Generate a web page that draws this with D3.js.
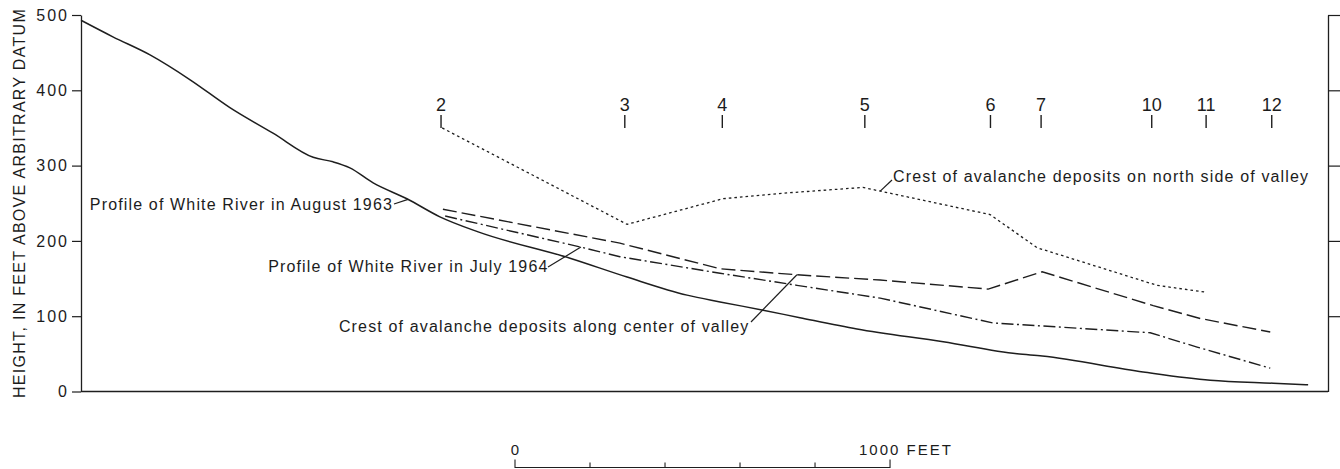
<!DOCTYPE html>
<html>
<head>
<meta charset="utf-8">
<script src="https://cdn.jsdelivr.net/npm/d3@7"></script>
<style>
  html, body { margin: 0; padding: 0; background: #fff; }
  svg { display: block; }
  text { font-family: "Liberation Sans", Arial, Helvetica, sans-serif; fill: #1c1c1c; }
</style>
</head>
<body>
<svg id="chart" width="1340" height="469"></svg>
<script>
// Longitudinal profile of the White River valley.
// Distances are feet down-valley; heights are feet above an arbitrary datum.

// Profile of White River in August 1963 (solid)
const aug1963Dist = [0, 85, 184, 291, 397, 512, 619, 672, 717, 779, 869, 957, 1059, 1304, 1456, 1616, 1704, 1819, 1917, 2069, 2299, 2496, 2563, 2832, 3011, 3179, 3272];
const aug1963Elev = [493, 471, 447, 414, 377, 343, 311, 305, 297, 277, 256, 232, 212, 177, 152, 128, 119, 108, 98, 83, 66, 50, 47, 26, 15, 11, 9];

// Profile of White River in July 1964 (dash-dot)
const jul1964Dist = [971, 1331, 1437, 1704, 1909, 2131, 2432, 2563, 2851, 2976, 3171];
const jul1964Elev = [233, 192, 179, 157, 141, 124, 91, 87, 78, 59, 31];

// Crest of avalanche deposits along center of valley (long dash)
const centerCrestDist = [965, 1437, 1704, 1909, 2131, 2419, 2563, 2859, 2984, 3171];
const centerCrestElev = [242, 197, 163, 155, 148, 136, 159, 114, 97, 79];

// Crest of avalanche deposits on north side of valley (dotted)
const northCrestDist = [963, 1456, 1712, 1890, 2085, 2424, 2549, 2869, 2997];
const northCrestElev = [350, 222, 256, 264, 271, 235, 191, 141, 132];

// Cross-section stations
const sectionNames = ["2", "3", "4", "5", "6", "7", "10", "11", "12"];
const sectionDist = [960, 1450, 1710, 2090, 2425, 2560, 2855, 3000, 3175];

const heightTicks = [0, 100, 200, 300, 400, 500];
const scaleBarTicks = [0, 200, 400, 600, 800, 1000];

const ink = "#1e1e1e";
const svg = d3.select("#chart");

const x = d3.scaleLinear().domain([0, 3325]).range([81, 1328]);
const y = d3.scaleLinear().domain([0, 500]).range([391.5, 15]);

const zip = (d, e) => d.map((v, i) => [v, e[i]]);
const line = d3.line().x(p => x(p[0])).y(p => y(p[1]));
const smoothLine = d3.line().x(p => x(p[0])).y(p => y(p[1])).curve(d3.curveMonotoneX);

// point on a profile at a given distance, used to anchor the leader lines
function pointOn(dist, elev, at) {
  const i = Math.max(1, d3.bisectLeft(dist, at));
  const t = (at - dist[i - 1]) / (dist[i] - dist[i - 1]);
  return [x(at), y(elev[i - 1] + t * (elev[i] - elev[i - 1]))];
}

// --- axes ---
const left = svg.append("g").attr("transform", `translate(${x(0)},0)`)
  .call(d3.axisLeft(y).tickValues(heightTicks).tickSize(9).tickSizeOuter(0).tickPadding(3));
left.selectAll("text").attr("font-size", 16).attr("letter-spacing", "2px")
  .attr("font-family", '"Liberation Sans", Arial, sans-serif').attr("fill", "#1c1c1c");

const right = svg.append("g").attr("transform", `translate(${x(3325)},0)`)
  .call(d3.axisRight(y).tickValues(heightTicks.filter(v => v > 0)).tickSize(12).tickSizeOuter(0).tickFormat(""));

[left, right].forEach(g => {
  g.select(".domain").attr("stroke", ink).attr("stroke-width", 1.3);
  g.selectAll(".tick line").attr("stroke", ink).attr("stroke-width", 1.2);
});

// datum line
svg.append("line")
  .attr("x1", x(0)).attr("x2", x(3325)).attr("y1", y(0)).attr("y2", y(0))
  .attr("stroke", ink).attr("stroke-width", 1.4);

svg.append("text")
  .attr("transform", `translate(25,203) rotate(-90)`)
  .attr("text-anchor", "middle").attr("font-size", 16).attr("letter-spacing", "1.3px")
  .text("HEIGHT, IN FEET ABOVE ARBITRARY DATUM");

// --- profiles ---
const series = [
  { pts: zip(aug1963Dist, aug1963Elev), dash: null, w: 1.5, gen: smoothLine },
  { pts: zip(jul1964Dist, jul1964Elev), dash: "12,3.5,2,3.5", w: 1.4, gen: line },
  { pts: zip(centerCrestDist, centerCrestElev), dash: "14,5", w: 1.4, gen: line },
  { pts: zip(northCrestDist, northCrestElev), dash: "2.6,3", w: 1.3, gen: line }
];
series.forEach(s => {
  svg.append("path").attr("d", s.gen(s.pts))
    .attr("fill", "none").attr("stroke", ink).attr("stroke-width", s.w)
    .attr("stroke-dasharray", s.dash);
});

// --- cross-section markers ---
const sec = svg.append("g");
sectionDist.forEach((d, i) => {
  sec.append("line").attr("x1", x(d)).attr("x2", x(d)).attr("y1", 115).attr("y2", 128)
    .attr("stroke", ink).attr("stroke-width", 1.4);
  sec.append("text").attr("x", x(d)).attr("y", 111).attr("text-anchor", "middle")
    .attr("font-size", 18).text(sectionNames[i]);
});

// --- labels with leaders ---
const labels = [
  { text: "Profile of White River in August 1963", anchor: "end", tx: 393, ty: 210,
    from: [394, 204], to: pointOn(aug1963Dist, aug1963Elev, 872) },
  { text: "Profile of White River in July 1964", anchor: "end", tx: 548.5, ty: 272,
    from: [548, 267], to: pointOn(jul1964Dist, jul1964Elev, 1333) },
  { text: "Crest of avalanche deposits along center of valley", anchor: "end", tx: 749.5, ty: 331.5,
    from: [751, 322], to: pointOn(centerCrestDist, centerCrestElev, 1909) },
  { text: "Crest of avalanche deposits on north side of valley", anchor: "start", tx: 893, ty: 182,
    from: [892, 180], to: pointOn(northCrestDist, northCrestElev, 2131) }
];
labels.forEach(l => {
  svg.append("text").attr("x", l.tx).attr("y", l.ty).attr("text-anchor", l.anchor)
    .attr("font-size", 16).attr("letter-spacing", "1.15px").text(l.text);
  svg.append("line").attr("x1", l.from[0]).attr("y1", l.from[1])
    .attr("x2", l.to[0]).attr("y2", l.to[1])
    .attr("stroke", ink).attr("stroke-width", 1.2);
});

// --- graphic scale ---
const bar = svg.append("g").attr("transform", `translate(${515 - x(0)},0)`);
bar.append("line").attr("x1", x(0)).attr("x2", x(1000)).attr("y1", 467.5).attr("y2", 467.5)
  .attr("stroke", ink).attr("stroke-width", 1.2);
scaleBarTicks.forEach((t, i) => {
  const end = i === 0 || i === scaleBarTicks.length - 1;
  bar.append("line").attr("x1", x(t)).attr("x2", x(t))
    .attr("y1", end ? 459.5 : 462.5).attr("y2", 468)
    .attr("stroke", ink).attr("stroke-width", 1.1);
});
bar.append("text").attr("x", x(0)).attr("y", 455).attr("text-anchor", "middle")
  .attr("font-size", 15).text("0");
bar.append("text").attr("x", x(1000) - 31).attr("y", 455)
  .attr("font-size", 15).attr("letter-spacing", "2px").text("1000 FEET");
</script>
</body>
</html>
